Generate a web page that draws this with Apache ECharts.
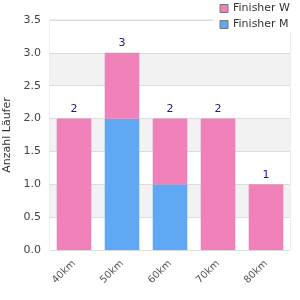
<!DOCTYPE html>
<html lang="de">
<head>
    <meta charset="UTF-8">
    <title>Finisher</title>
    <script src="https://cdn.jsdelivr.net/npm/echarts@6/dist/echarts.min.js"></script>
    <style>
        html, body { margin: 0; padding: 0; background: #fff; }
        #mChart { width: 300px; height: 300px; }
    </style>
</head>
<body>
    <div id="mChart"></div>
    <script type="text/javascript">
        var categories = ['40km', '50km', '60km', '70km', '80km']
        var finisherM = [0, 2, 1, 0, 0]
        var finisherW = [2, 1, 1, 2, 1]
        var yTicks = [0, 3.5, 0.5]

        var totals = categories.map((c, i) => finisherM[i] + finisherW[i])

        var mChart = echarts.init(document.getElementById('mChart'))
        mChart.setOption({
            animation: false,
            textStyle: { fontFamily: 'DejaVu Sans' },
            grid: {
                left: 50, right: 10, top: 20, bottom: 50,
                outerBoundsMode: 'none',
                containLabel: false,
                show: true, borderColor: '#dcdcdc', borderWidth: 1
            },
            legend: {
                data: ['Finisher W', 'Finisher M'],
                orient: 'vertical',
                right: 4, top: 1,
                padding: [2, 6, 2, 6],
                backgroundColor: '#fff',
                icon: 'rect',
                itemWidth: 8, itemHeight: 8,
                itemGap: 5,
                itemStyle: { borderColor: '#777', borderWidth: 1 },
                textStyle: { fontSize: 11, color: '#333' }
            },
            xAxis: {
                type: 'category',
                data: categories,
                axisLine: { show: false },
                axisTick: { show: false },
                axisLabel: {
                    rotate: 45, fontSize: 10, color: '#555', margin: 12
                }
            },
            yAxis: {
                type: 'value',
                min: yTicks[0], max: yTicks[1], interval: yTicks[2],
                name: 'Anzahl Läufer',
                nameLocation: 'middle',
                nameGap: 37,
                nameTextStyle: { fontSize: 11, color: '#333' },
                axisLine: { show: false },
                axisLabel: { fontSize: 11, color: '#444', margin: 9, formatter: v => v.toFixed(1) },
                splitLine: { lineStyle: { color: '#dcdcdc' } },
                splitArea: { show: true, areaStyle: { color: ['#fff', '#f2f2f2'] } }
            },
            series: [{
                name: 'Finisher M',
                type: 'bar',
                stack: 'all',
                barWidth: '72%',
                data: finisherM,
                itemStyle: { color: '#60a8f4' }
            }, {
                name: 'Finisher W',
                type: 'bar',
                stack: 'all',
                data: finisherW,
                itemStyle: { color: '#f181b9' },
                label: {
                    show: true,
                    position: 'top',
                    distance: 4,
                    fontSize: 11,
                    color: '#1a1a80',
                    formatter: p => totals[p.dataIndex]
                }
            }]
        })
    </script>
</body>
</html>
